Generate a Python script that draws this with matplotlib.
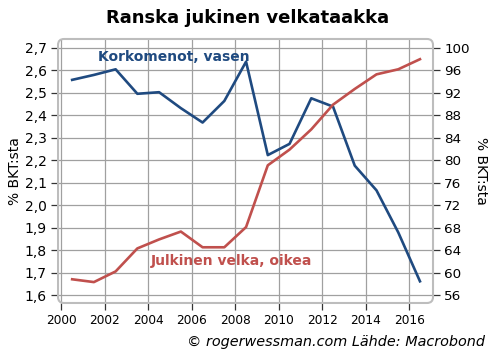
"""
Ranskan julkinen velka ja korkomenot
"""
import matplotlib.pyplot as plt
from matplotlib.patches import FancyBboxPatch
from matplotlib.ticker import FuncFormatter

years = [2000.5, 2001.5, 2002.5, 2003.5, 2004.5, 2005.5, 2006.5, 2007.5, 2008.5,
         2009.5, 2010.5, 2011.5, 2012.5, 2013.5, 2014.5, 2015.5, 2016.5]
korkomenot = [2.558, 2.58, 2.605, 2.496, 2.503, 2.432, 2.368, 2.464, 2.639,
              2.223, 2.273, 2.476, 2.439, 2.176, 2.066, 1.879, 1.661]
velka = [58.8, 58.3, 60.2, 64.3, 65.9, 67.3, 64.5, 64.5, 68.1,
         79.1, 81.9, 85.5, 89.9, 92.7, 95.3, 96.2, 98.0]
xticks = list(range(2000, 2017, 2))
left_ticks = [1.6 + 0.1 * i for i in range(12)]
right_ticks = list(range(56, 101, 4))

blue = '#1f4a80'
red = '#c0504d'
grid_col = '#a0a0a0'
frame_col = '#bdbdbd'

fig = plt.figure(figsize=(4.96, 3.61), dpi=100)
ax = fig.add_axes([0.117, 0.1607, 0.756, 0.7313])
ax2 = ax.twinx()

ax.plot(years, korkomenot, color=blue, lw=1.9, zorder=3)
ax2.plot(years, velka, color=red, lw=1.9, zorder=3)

ax.set_xlim(1999.85, 2017.1)
ax.set_ylim(1.6 - 0.1 * 8 / 22.5, 2.7 + 0.1 * 9 / 22.5)
ax2.set_ylim(56 - 4 * 8 / 22.5, 100 + 4 * 9 / 22.5)

ax.set_xticks(xticks)
ax.set_yticks(left_ticks)
ax2.set_yticks(right_ticks)
ax.yaxis.set_major_formatter(FuncFormatter(lambda v, p: f"{v:.1f}".replace('.', ',')))

ax.grid(True, color=grid_col, lw=0.9)
ax.set_axisbelow(True)
for a in (ax, ax2):
    for s in a.spines.values():
        s.set_visible(False)
    a.tick_params(length=5, color='#333333', width=0.9)
ax.tick_params(axis='y', labelsize=10, pad=3)
ax.tick_params(axis='x', labelsize=8.7, pad=3)
ax2.tick_params(axis='y', labelsize=9.7, pad=3)

# rounded frame around the plot area
r = 6 / 375
frame = FancyBboxPatch((0, 0), 1, 1, boxstyle=f"round,pad=0,rounding_size={r}",
                       mutation_aspect=375 / 264, transform=ax.transAxes,
                       fill=False, ec=frame_col, lw=1.5, clip_on=False, zorder=4)
ax2.add_patch(frame)

ax.set_ylabel("% BKT:sta", fontsize=10, labelpad=2)
ax2.set_ylabel("% BKT:sta", fontsize=10, rotation=270, labelpad=13)

ax.text(2001.69, 2.69, "Korkomenot, vasen", color=blue, fontsize=10,
        fontweight='bold', va='top', ha='left')
ax2.text(2004.1, 63.3, "Julkinen velka, oikea", color=red, fontsize=10,
         fontweight='bold', va='top', ha='left')

fig.suptitle("Ranska jukinen velkataakka", fontsize=13, fontweight='bold', y=0.975)
fig.text(0.978, 0.052, "© rogerwessman.com Lähde: Macrobond", fontsize=10.4,
         style='italic', ha='right', va='center')

plt.savefig("out.png", dpi=100)
